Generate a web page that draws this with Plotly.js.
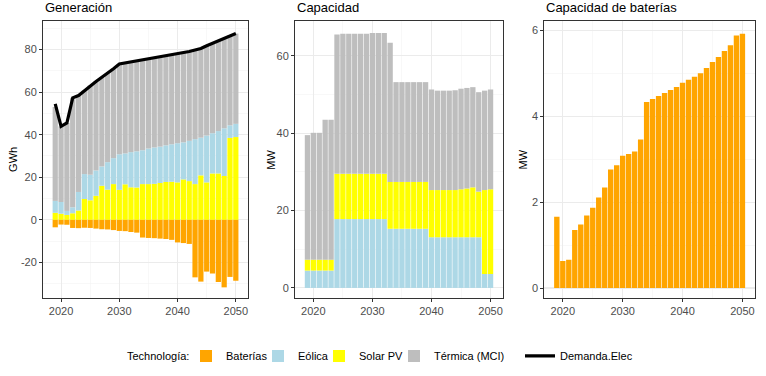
<!DOCTYPE html>
<html>
<head>
<meta charset="utf-8">
<script src="https://cdn.plot.ly/plotly-3.0.1.min.js"></script>
<style>html,body{margin:0;padding:0;background:#fff;}#chart{width:766px;height:376px;}</style>
</head>
<body>
<div id="chart"></div>
<script>
// ---- Data ----
var years = [2019,2020,2021,2022,2023,2024,2025,2026,2027,2028,2029,2030,2031,2032,2033,2034,2035,2036,2037,2038,2039,2040,2041,2042,2043,2044,2045,2046,2047,2048,2049,2050];

// Generación (GWh)
var genSolar   = [3.3,2.9,2.3,3.1,4.4,9.8,9.2,11.3,16.0,14.2,16.8,14.1,16.7,15.3,15.2,16.8,16.8,16.9,17.3,17.8,17.9,17.6,19.0,18.2,16.8,20.9,17.6,21.8,21.8,20.6,38.5,38.9];
var genEolica  = [5.6,5.5,1.9,2.8,8.7,11.7,12.0,11.9,9.1,12.9,12.2,16.7,14.5,16.5,17.0,15.9,16.7,17.1,17.1,17.2,17.6,18.4,17.4,18.9,21.1,17.7,22.0,18.9,19.9,22.4,5.9,6.2];
var genTermica = [44.1,35.5,41.3,51.4,45.3,39.2,41.9,41.8,41.9,41.8,42.0,42.4,42.5,42.3,42.4,42.4,42.0,42.0,42.1,42.0,41.9,42.0,42.1,42.0,41.9,41.9,42.2,42.3,42.4,42.2,42.2,42.4];
var genBaterias= [-3.5,-2.2,-2.3,-3.8,-3.9,-3.7,-3.8,-4.1,-4.4,-4.5,-4.8,-5.2,-5.3,-5.7,-6.0,-8.3,-8.5,-8.6,-8.8,-9.0,-9.4,-10.6,-10.9,-11.3,-27.0,-29.0,-24.3,-25.2,-29.2,-31.7,-26.8,-28.6];
var demanda    = [54.5,43.9,45.5,57.3,58.4,60.7,63.1,65.0,67.0,68.9,71.0,73.2,73.7,74.1,74.6,75.1,75.5,76.0,76.5,77.0,77.4,78.0,78.5,79.1,79.8,80.5,81.8,83.0,84.1,85.2,86.6,87.5];

// Capacidad (MW)
var capEolica  = [4.5,4.5,4.5,4.5,4.5,17.8,17.8,17.8,17.8,17.8,17.8,17.8,17.8,17.8,15.3,15.3,15.3,15.3,15.3,15.3,15.3,13.1,13.1,13.1,13.1,13.1,13.1,13.1,13.1,13.1,3.6,3.6];
var capSolar   = [2.8,2.8,2.8,2.8,2.8,11.7,11.7,11.7,11.7,11.7,11.7,11.7,11.7,11.7,12.1,12.1,12.1,12.1,12.1,12.1,12.1,12.2,12.2,12.2,12.2,12.2,12.4,12.6,12.9,11.8,21.7,21.9];
var capTermica = [32.2,32.8,32.8,36.2,36.2,36.0,36.2,36.2,36.2,36.2,36.2,36.4,36.4,36.4,36.0,25.8,25.8,25.8,25.8,25.8,25.8,26.0,25.7,25.7,25.7,25.8,26.0,26.0,25.9,25.7,25.7,25.8];

// Capacidad de baterías (MW)
var capBaterias = [1.66,0.63,0.66,1.35,1.48,1.69,1.87,2.11,2.34,2.76,2.86,3.08,3.12,3.18,3.46,4.33,4.40,4.47,4.54,4.61,4.68,4.78,4.85,4.92,5.00,5.12,5.26,5.38,5.52,5.65,5.88,5.92];

var xTicks = [2020,2030,2040,2050];

// ---- Styles ----
var C = {bat:'#FFA500', eol:'#ADD8E6', sol:'#FFFF00', ter:'#BEBEBE'};
var N = {bat:'Baterías', eol:'Eólica', sol:'Solar PV', ter:'Térmica (MCI)'};
var L = {bat:'legend', eol:'legend2', sol:'legend3', ter:'legend4'};

function bar(key, y, xa, ya, show){
  return {type:'bar', x:years, y:y, xaxis:xa, yaxis:ya, name:N[key],
    marker:{color:C[key], line:{width:0}}, legendgroup:key,
    showlegend:show, legend:L[key], hoverinfo:'skip'};
}

var data = [
  bar('sol', genSolar, 'x', 'y', true),
  bar('eol', genEolica, 'x', 'y', true),
  bar('ter', genTermica, 'x', 'y', true),
  bar('bat', genBaterias, 'x', 'y', true),
  {type:'scatter', mode:'lines', x:years, y:demanda, xaxis:'x', yaxis:'y',
   name:'Demanda.Elec', line:{color:'#000', width:3.2}, legend:'legend5', showlegend:true, hoverinfo:'skip'},
  bar('eol', capEolica, 'x2', 'y2', false),
  bar('sol', capSolar, 'x2', 'y2', false),
  bar('ter', capTermica, 'x2', 'y2', false),
  bar('bat', capBaterias, 'x3', 'y3', false)
];

var grid = '#EBEBEB';
var tf = {family:'Liberation Sans, Arial', size:11, color:'#4D4D4D'};
function xax(dom, anchor){
  return {domain:dom, anchor:anchor, range:[2016.9,2052.1], tickvals:xTicks, ticktext:xTicks.map(String),
    ticks:'outside', ticklen:3, tickcolor:'#333', tickfont:tf,
    showgrid:true, gridcolor:grid, gridwidth:1.1, zeroline:false,
    minor:{tickvals:[2025,2035,2045], showgrid:true, gridcolor:'#F3F3F3', gridwidth:0.6, ticks:''},
    showline:true, mirror:true, linecolor:'#333', linewidth:1, fixedrange:true};
}
function yax(range, ticks, minors, anchor){
  return {domain:[0,1], anchor:anchor, range:range, tickvals:ticks, ticktext:ticks.map(String),
    ticks:'outside', ticklen:3, tickcolor:'#333', tickfont:tf,
    showgrid:true, gridcolor:grid, gridwidth:1.1, zeroline:false,
    minor:{tickvals:minors, showgrid:true, gridcolor:'#F3F3F3', gridwidth:0.6, ticks:''},
    showline:true, mirror:true, linecolor:'#333', linewidth:1, fixedrange:true};
}

var d1 = [0, 0.288], d2 = [0.354, 0.646], d3 = [0.704, 1];
var ttl = {family:'Liberation Sans, Arial', size:13, color:'#000'};
var axt = {family:'Liberation Sans, Arial', size:11, color:'#000'};
var lf = {family:'Liberation Sans, Arial', size:11, color:'#000'};

function px(p){ return (p - 43) / 712; }
function leg(leftPx){
  return {orientation:'h', x:px(leftPx), xanchor:'left', y:-0.209, yanchor:'middle',
    font:lf, bgcolor:'rgba(0,0,0,0)', borderwidth:0};
}

var layout = {
  width:766, height:376,
  margin:{l:43, r:11, t:21, b:78, autoexpand:false},
  paper_bgcolor:'#fff', plot_bgcolor:'#fff',
  barmode:'relative', bargap:0.1,
  xaxis: xax(d1,'y'), yaxis: yax([-36.7,93.4],[-20,0,20,40,60,80],[-30,-10,10,30,50,70,90],'x'),
  xaxis2: xax(d2,'y2'), yaxis2: yax([-2.6,69.0],[0,20,40,60],[10,30,50],'x2'),
  xaxis3: xax(d3,'y3'), yaxis3: yax([-0.232,6.216],[0,2,4,6],[1,3,5],'x3'),
  legend: leg(186),
  legend2: leg(258),
  legend3: leg(319),
  legend4: leg(394),
  legend5: leg(520),
  annotations:[
    {text:'Generación', xref:'paper', yref:'paper', x:0, y:1.047, xanchor:'left', yanchor:'middle', showarrow:false, font:ttl},
    {text:'Capacidad', xref:'paper', yref:'paper', x:d2[0], y:1.047, xanchor:'left', yanchor:'middle', showarrow:false, font:ttl},
    {text:'Capacidad de baterías', xref:'paper', yref:'paper', x:d3[0], y:1.047, xanchor:'left', yanchor:'middle', showarrow:false, font:ttl},
    {text:'GWh', xref:'paper', yref:'paper', x:-0.043, y:0.5, xanchor:'center', yanchor:'middle', textangle:-90, showarrow:false, font:axt},
    {text:'MW', xref:'paper', yref:'paper', x:d2[0]-0.035, y:0.5, xanchor:'center', yanchor:'middle', textangle:-90, showarrow:false, font:axt},
    {text:'MW', xref:'paper', yref:'paper', x:d3[0]-0.03, y:0.5, xanchor:'center', yanchor:'middle', textangle:-90, showarrow:false, font:axt},
    {text:'Technología:', xref:'paper', yref:'paper', x:px(191), y:-0.209, xanchor:'right', yanchor:'middle', showarrow:false, font:lf}
  ]
};

Plotly.newPlot('chart', data, layout, {staticPlot:true, displayModeBar:false});
</script>
</body>
</html>
